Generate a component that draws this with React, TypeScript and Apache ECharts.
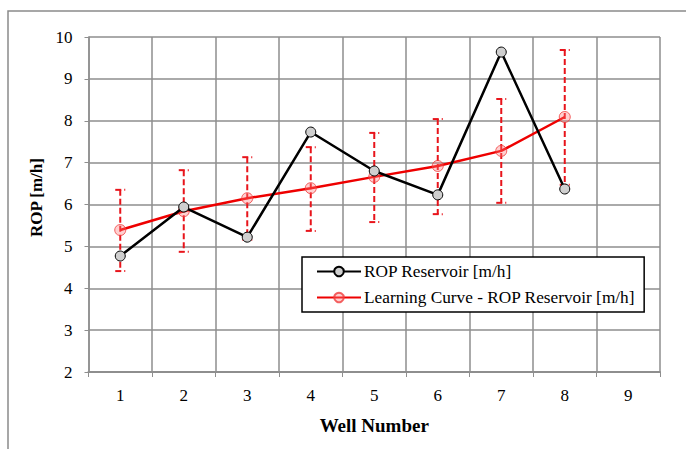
import React, { useEffect, useRef } from "react";
import * as echarts from "echarts";

const wells = ["1", "2", "3", "4", "5", "6", "7", "8", "9"];
const ropReservoir = [4.77, 5.94, 5.22, 7.73, 6.8, 6.23, 9.64, 6.37];
const learningCurve = [5.39, 5.84, 6.15, 6.39, 6.66, 6.92, 7.28, 8.09];
const errLow = [4.41, 4.87, 5.16, 5.37, 5.58, 5.77, 6.04, 6.47];
const errHigh = [6.35, 6.82, 7.13, 7.37, 7.71, 8.04, 8.52, 9.69];
const yTicks = { min: 2, max: 10, interval: 1 };

const FONT = "Liberation Serif";
const GRID = "#8e8e8e";

export default function App() {
  const ref = useRef<HTMLDivElement>(null);
  useEffect(() => {
    if (!ref.current) return;
    const chart = echarts.init(ref.current, null, { renderer: "svg" });
    const errData = errLow.map((lo, i) => [i, lo, errHigh[i]]);
    chart.setOption({
      animation: false,
      backgroundColor: "#fff",
      textStyle: { fontFamily: FONT },
      graphic: [
        {
          type: "rect",
          shape: { x: 8, y: 11, width: 720, height: 460 },
          style: { fill: "none", stroke: "#8a8a8a", lineWidth: 1.5 },
          silent: true,
          z: -10,
        },
      ],
      grid: { left: 88.5, top: 37, right: 26, bottom: 77, containLabel: false },
      legend: {
        orient: "vertical",
        left: 302,
        top: 257,
        padding: [6, 9, 6, 14],
        itemGap: 9,
        itemWidth: 44,
        itemHeight: 12,
        backgroundColor: "#fff",
        borderColor: "#000",
        borderWidth: 1.5,
        borderRadius: 0,
        textStyle: { fontFamily: FONT, fontSize: 17.3, color: "#000", padding: [0, 0, 0, -2] },
        data: ["ROP Reservoir [m/h]", "Learning Curve - ROP Reservoir [m/h]"],
      },
      xAxis: {
        type: "category",
        data: wells,
        boundaryGap: true,
        name: "Well Number",
        nameLocation: "middle",
        nameGap: 44,
        nameTextStyle: { fontFamily: FONT, fontSize: 19, fontWeight: "bold", color: "#000" },
        axisLine: { show: true, lineStyle: { color: GRID, width: 2 } },
        axisTick: { show: true, length: 5, lineStyle: { color: GRID, width: 1 } },
        axisLabel: { fontFamily: FONT, fontSize: 17, color: "#000", margin: 15 },
        splitLine: { show: true, lineStyle: { color: GRID, width: 1.5 } },
      },
      yAxis: {
        type: "value",
        min: yTicks.min,
        max: yTicks.max,
        interval: yTicks.interval,
        name: "ROP [m/h]",
        nameLocation: "middle",
        nameGap: 42,
        nameTextStyle: {
          fontFamily: FONT,
          fontSize: 17,
          fontWeight: "bold",
          color: "#000",
          padding: [0, 0, 0, 14],
        },
        axisLine: { show: true, lineStyle: { color: GRID, width: 1.5 } },
        axisTick: { show: true, length: 4, lineStyle: { color: GRID, width: 1 } },
        axisLabel: { fontFamily: FONT, fontSize: 17, color: "#000", margin: 16 },
        splitLine: { show: true, lineStyle: { color: GRID, width: 1.5 } },
      },
      series: [
        {
          type: "custom",
          name: "err",
          data: errData,
          z: 2,
          renderItem: (params: any, api: any) => {
            const idx = api.value(0);
            const lo = api.coord([idx, api.value(1)]);
            const hi = api.coord([idx, api.value(2)]);
            const x = lo[0];
            const red = "#e8141b";
            return {
              type: "group",
              children: [
                {
                  type: "line",
                  shape: { x1: x, y1: hi[1], x2: x, y2: lo[1] },
                  style: { stroke: red, lineWidth: 2, lineDash: [6, 3] },
                },
                {
                  type: "line",
                  shape: { x1: x - 5, y1: hi[1], x2: x + 1, y2: hi[1] },
                  style: { stroke: red, lineWidth: 2 },
                },
                {
                  type: "line",
                  shape: { x1: x - 5, y1: lo[1], x2: x + 1, y2: lo[1] },
                  style: { stroke: red, lineWidth: 2 },
                },
                {
                  type: "rect",
                  shape: { x: x + 4, y: hi[1] - 1, width: 1, height: 2 },
                  style: { fill: red },
                },
                {
                  type: "rect",
                  shape: { x: x + 4, y: lo[1] - 1, width: 1, height: 2 },
                  style: { fill: red },
                },
              ],
            };
          },
        },
        {
          type: "line",
          name: "Learning Curve - ROP Reservoir [m/h]",
          data: learningCurve,
          z: 3,
          symbol: "circle",
          symbolSize: 11,
          lineStyle: { color: "#ee0000", width: 2.5 },
          itemStyle: { color: "rgba(255,120,120,0.35)", borderColor: "rgba(240,60,60,0.8)", borderWidth: 1 },
        },
        {
          type: "line",
          name: "ROP Reservoir [m/h]",
          data: ropReservoir,
          z: 4,
          symbol: "circle",
          symbolSize: 10,
          lineStyle: { color: "#000", width: 2.5 },
          itemStyle: { color: "#cfcfcf", borderColor: "#000", borderWidth: 1 },
        },
      ],
    });
    return () => chart.dispose();
  }, []);
  return (
    <div
      ref={ref}
      style={{ position: "fixed", left: 0, top: 0, width: 686, height: 449 }}
    />
  );
}
